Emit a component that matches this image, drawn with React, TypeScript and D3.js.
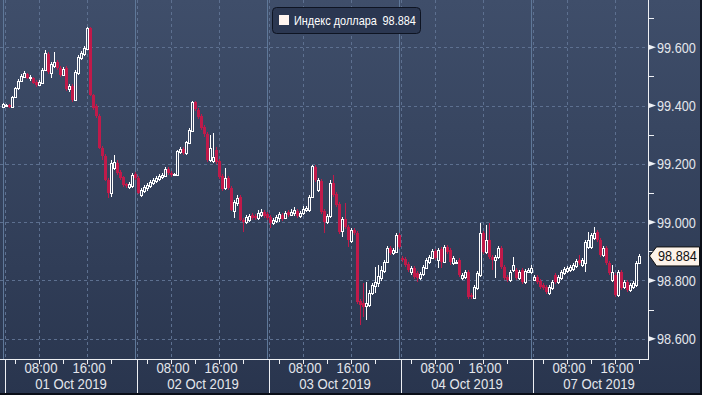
import React from "react";
import * as d3 from "d3";

// [open, high, low, close], 30-min bars
type Bar = [number, number, number, number];

const seriesName = "Индекс доллара";
const lastPrice = 98.884;
const dayLabels = ["01 Oct 2019", "02 Oct 2019", "03 Oct 2019", "04 Oct 2019", "07 Oct 2019"];
const priceTicks = [98.6, 98.8, 99.0, 99.2, 99.4, 99.6];
const minorPriceTicks = [98.7, 98.9, 99.1, 99.3, 99.5, 99.7];
const hourTicks = [4, 8, 12, 16, 20];
const labeledHours = [8, 16];

const priorBars: Bar[] = [[99.395, 99.409, 99.392, 99.405]];

const oct01: Bar[] = [
  [99.398, 99.405, 99.395, 99.402], [99.402, 99.405, 99.392, 99.395], [99.395, 99.433, 99.392, 99.429],
  [99.429, 99.464, 99.426, 99.461], [99.461, 99.491, 99.453, 99.485], [99.485, 99.508, 99.481, 99.501],
  [99.498, 99.519, 99.495, 99.512], [99.508, 99.512, 99.491, 99.495], [99.495, 99.505, 99.485, 99.498],
  [99.495, 99.498, 99.474, 99.477], [99.481, 99.488, 99.464, 99.470], [99.470, 99.488, 99.467, 99.481],
  [99.477, 99.529, 99.474, 99.522], [99.522, 99.590, 99.519, 99.580], [99.577, 99.583, 99.508, 99.515],
  [99.512, 99.549, 99.495, 99.542], [99.535, 99.583, 99.529, 99.549], [99.549, 99.556, 99.522, 99.529],
  [99.529, 99.535, 99.498, 99.505], [99.505, 99.532, 99.501, 99.525], [99.529, 99.535, 99.450, 99.457],
  [99.457, 99.474, 99.446, 99.467], [99.467, 99.474, 99.412, 99.419], [99.419, 99.522, 99.416, 99.515],
  [99.512, 99.573, 99.505, 99.566], [99.563, 99.587, 99.556, 99.580], [99.577, 99.604, 99.570, 99.597],
  [99.594, 99.669, 99.590, 99.666], [99.666, 99.669, 99.433, 99.436], [99.436, 99.440, 99.385, 99.392],
  [99.398, 99.405, 99.357, 99.364], [99.364, 99.371, 99.251, 99.254], [99.254, 99.261, 99.213, 99.227],
  [99.227, 99.233, 99.141, 99.145], [99.145, 99.152, 99.083, 99.100], [99.100, 99.213, 99.086, 99.203],
  [99.186, 99.230, 99.179, 99.206], [99.203, 99.213, 99.162, 99.169], [99.172, 99.179, 99.145, 99.152],
  [99.155, 99.158, 99.121, 99.127], [99.131, 99.134, 99.117, 99.124], [99.121, 99.138, 99.114, 99.131],
  [99.124, 99.169, 99.117, 99.162], [99.165, 99.172, 99.145, 99.152],
];

const oct02: Bar[] = [
  [99.152, 99.158, 99.096, 99.100], [99.093, 99.117, 99.086, 99.110], [99.107, 99.127, 99.100, 99.121],
  [99.117, 99.134, 99.107, 99.127], [99.124, 99.145, 99.117, 99.138], [99.134, 99.152, 99.127, 99.145],
  [99.141, 99.158, 99.134, 99.152], [99.148, 99.165, 99.141, 99.158], [99.155, 99.169, 99.148, 99.162],
  [99.158, 99.189, 99.155, 99.182], [99.182, 99.189, 99.162, 99.169], [99.169, 99.176, 99.155, 99.162],
  [99.162, 99.169, 99.158, 99.165], [99.162, 99.247, 99.158, 99.244], [99.241, 99.258, 99.233, 99.251],
  [99.251, 99.258, 99.230, 99.237], [99.237, 99.278, 99.230, 99.275], [99.271, 99.323, 99.268, 99.316],
  [99.313, 99.416, 99.309, 99.412], [99.412, 99.416, 99.381, 99.388], [99.385, 99.392, 99.354, 99.361],
  [99.364, 99.371, 99.316, 99.323], [99.326, 99.333, 99.292, 99.302], [99.302, 99.309, 99.206, 99.213],
  [99.213, 99.299, 99.206, 99.254], [99.210, 99.306, 99.203, 99.223], [99.247, 99.258, 99.199, 99.206],
  [99.210, 99.217, 99.148, 99.155], [99.158, 99.165, 99.107, 99.114], [99.117, 99.186, 99.110, 99.152],
  [99.152, 99.158, 99.110, 99.117], [99.117, 99.124, 99.038, 99.042], [99.038, 99.076, 99.014, 99.069],
  [99.066, 99.093, 99.055, 99.083], [99.086, 99.093, 99.004, 99.007], [99.007, 99.014, 98.966, 99.000],
  [99.000, 99.024, 98.994, 99.018], [99.007, 99.028, 99.000, 99.021], [99.024, 99.031, 99.007, 99.014],
  [99.021, 99.028, 99.007, 99.014], [99.014, 99.042, 99.007, 99.031], [99.024, 99.045, 99.018, 99.035],
  [99.035, 99.042, 99.014, 99.021], [99.028, 99.035, 99.007, 99.014],
];

const oct03: Bar[] = [
  [99.018, 99.024, 98.980, 98.997], [98.997, 99.014, 98.990, 99.007], [99.004, 99.024, 98.997, 99.018],
  [99.014, 99.035, 99.000, 99.028], [99.024, 99.031, 99.004, 99.011], [99.014, 99.038, 99.011, 99.031],
  [99.035, 99.042, 99.018, 99.024], [99.024, 99.045, 99.021, 99.035], [99.031, 99.052, 99.021, 99.042],
  [99.038, 99.045, 99.014, 99.021], [99.021, 99.038, 99.014, 99.031], [99.031, 99.055, 99.024, 99.045],
  [99.042, 99.055, 99.035, 99.049], [99.042, 99.093, 99.035, 99.086], [99.086, 99.196, 99.083, 99.193],
  [99.189, 99.196, 99.138, 99.145], [99.110, 99.152, 99.103, 99.145], [99.141, 99.148, 99.028, 99.035],
  [99.038, 99.045, 98.963, 99.000], [99.000, 99.028, 98.994, 99.021], [99.021, 99.145, 99.014, 99.134],
  [99.134, 99.162, 99.086, 99.093], [99.096, 99.103, 99.052, 99.059], [99.062, 99.069, 98.959, 98.966],
  [98.970, 99.018, 98.949, 99.011], [99.011, 99.066, 98.976, 98.983], [98.983, 98.990, 98.915, 98.939],
  [98.935, 98.980, 98.928, 98.973], [98.973, 98.980, 98.956, 98.963], [98.963, 98.970, 98.720, 98.726],
  [98.730, 98.737, 98.647, 98.716], [98.723, 98.791, 98.675, 98.709], [98.713, 98.795, 98.664, 98.723],
  [98.716, 98.767, 98.709, 98.757], [98.757, 98.791, 98.750, 98.784], [98.781, 98.846, 98.757, 98.795],
  [98.791, 98.853, 98.778, 98.815], [98.808, 98.849, 98.798, 98.836], [98.833, 98.870, 98.826, 98.863],
  [98.863, 98.918, 98.860, 98.911], [98.911, 98.918, 98.887, 98.894], [98.894, 98.911, 98.887, 98.904],
  [98.897, 98.963, 98.894, 98.956], [98.956, 98.963, 98.908, 98.915],
];

const oct04: Bar[] = [
  [98.877, 98.884, 98.863, 98.870], [98.873, 98.880, 98.846, 98.853], [98.856, 98.863, 98.829, 98.836],
  [98.829, 98.849, 98.819, 98.843], [98.843, 98.849, 98.805, 98.812], [98.826, 98.833, 98.795, 98.808],
  [98.808, 98.829, 98.802, 98.822], [98.822, 98.853, 98.815, 98.846], [98.843, 98.877, 98.839, 98.870],
  [98.863, 98.887, 98.856, 98.880], [98.877, 98.908, 98.873, 98.901], [98.901, 98.908, 98.870, 98.877],
  [98.870, 98.911, 98.843, 98.904], [98.908, 98.915, 98.843, 98.863], [98.863, 98.922, 98.860, 98.915],
  [98.915, 98.922, 98.891, 98.897], [98.904, 98.911, 98.853, 98.863], [98.860, 98.884, 98.853, 98.877],
  [98.860, 98.870, 98.856, 98.863], [98.870, 98.877, 98.812, 98.819], [98.808, 98.826, 98.802, 98.819],
  [98.812, 98.836, 98.805, 98.829], [98.829, 98.836, 98.737, 98.743], [98.750, 98.757, 98.737, 98.743],
  [98.740, 98.784, 98.737, 98.778], [98.774, 98.833, 98.767, 98.826], [98.819, 98.997, 98.812, 98.963],
  [98.963, 98.970, 98.891, 98.897], [98.897, 98.990, 98.891, 98.939], [98.939, 98.997, 98.873, 98.880],
  [98.880, 98.887, 98.836, 98.870], [98.870, 98.887, 98.808, 98.880], [98.880, 98.918, 98.873, 98.911],
  [98.911, 98.918, 98.839, 98.846], [98.846, 98.853, 98.802, 98.808], [98.812, 98.819, 98.795, 98.802],
  [98.802, 98.836, 98.795, 98.829], [98.836, 98.880, 98.829, 98.853], [98.836, 98.843, 98.802, 98.808],
  [98.808, 98.836, 98.802, 98.829], [98.836, 98.843, 98.788, 98.795], [98.795, 98.839, 98.788, 98.833],
  [98.829, 98.843, 98.826, 98.836], [98.829, 98.853, 98.822, 98.843],
];

const oct07: Bar[] = [
  [98.802, 98.819, 98.798, 98.812], [98.812, 98.819, 98.788, 98.795], [98.798, 98.805, 98.771, 98.778],
  [98.784, 98.791, 98.767, 98.774], [98.778, 98.784, 98.754, 98.760], [98.757, 98.784, 98.750, 98.778],
  [98.774, 98.802, 98.767, 98.795], [98.819, 98.826, 98.788, 98.795], [98.795, 98.819, 98.788, 98.812],
  [98.808, 98.836, 98.802, 98.829], [98.826, 98.846, 98.819, 98.839], [98.833, 98.849, 98.826, 98.843],
  [98.836, 98.853, 98.829, 98.846], [98.839, 98.860, 98.833, 98.853], [98.849, 98.873, 98.843, 98.867],
  [98.870, 98.887, 98.853, 98.860], [98.853, 98.877, 98.846, 98.870], [98.860, 98.939, 98.829, 98.932],
  [98.915, 98.966, 98.908, 98.939], [98.915, 98.963, 98.908, 98.956], [98.946, 98.983, 98.939, 98.963],
  [98.966, 98.973, 98.932, 98.939], [98.939, 98.946, 98.880, 98.887], [98.887, 98.918, 98.880, 98.911],
  [98.911, 98.918, 98.853, 98.860], [98.860, 98.867, 98.819, 98.826], [98.802, 98.853, 98.795, 98.829],
  [98.819, 98.826, 98.743, 98.750], [98.750, 98.836, 98.743, 98.829], [98.829, 98.836, 98.767, 98.774],
  [98.778, 98.802, 98.771, 98.795], [98.795, 98.802, 98.760, 98.767], [98.767, 98.791, 98.760, 98.784],
  [98.778, 98.798, 98.771, 98.791], [98.784, 98.867, 98.778, 98.860], [98.860, 98.891, 98.856, 98.884],
];

const days = [oct01, oct02, oct03, oct04, oct07];

// each trading day is drawn as a 22h block starting 02:20
const SESSION_HOURS = 22;
const SESSION_START = 2 + 1 / 3;
const BAR_HOURS = 0.5;

const W = 702;
const H = 395;
const plotRight = 648;
const axisY = 359;

const FONT = "'Liberation Sans', Arial, sans-serif";
const RED = "#c01a4a";
const GRID = "#5d7090";
const INK = "#e4e6ec";

const x = d3.scaleLinear().domain([0, SESSION_HOURS * 5]).range([5, 5 + 6 * SESSION_HOURS * 5]);
const y = d3.scaleLinear().domain([98.6, 99.6]).range([338.7, 47.3]);
const fmt = d3.format(".3f");

const candles = [
  ...priorBars.map((b, i) => ({ t: -BAR_HOURS / 2 - i * BAR_HOURS, b })),
  ...days.flatMap((bars, d) =>
    bars.map((b, i) => ({ t: d * SESSION_HOURS + BAR_HOURS / 2 + i * BAR_HOURS, b }))
  ),
];

const hourT = (d: number, h: number) => d * SESSION_HOURS + (h - SESSION_START);

// narrow text: Bloomberg-like condensed look
function NText({ x, y, size, sx, fill, anchor = "start", children }: any) {
  return (
    <text
      transform={`translate(${x},${y}) scale(${sx},1)`}
      fontSize={size}
      fill={fill}
      textAnchor={anchor}
    >
      {children}
    </text>
  );
}

function Candle({ t, b }: { t: number; b: Bar }) {
  const [o, h, l, c] = b;
  const L = Math.round(x(t) - 1.5);
  const cx = L + 1.5;
  const up = c >= o;
  const top = Math.round(y(Math.max(o, c)));
  const bot = Math.round(y(Math.min(o, c)));
  const color = up ? "#ffffff" : RED;
  return (
    <g>
      <line x1={cx} x2={cx} y1={Math.round(y(h))} y2={Math.round(y(l))} stroke={color} strokeWidth={1} />
      {up ? (
        <rect x={L + 0.5} y={top + 0.5} width={2} height={Math.max(bot - top, 0)} fill="url(#bg)" stroke="#ffffff" strokeWidth={1} />
      ) : (
        <rect x={L} y={top} width={3} height={Math.max(bot - top, 1)} fill={RED} />
      )}
    </g>
  );
}

export default function App() {
  const lastY = y(lastPrice);
  return (
    <div>
      <style>{"body{margin:0;background:#222c40}svg{display:block}"}</style>
      <svg width={W} height={H} style={{ fontFamily: FONT }}>
        <defs>
          <linearGradient id="bg" gradientUnits="userSpaceOnUse" x1={0} y1={0} x2={0} y2={H}>
            <stop offset="0%" stopColor="#3f4e6a" />
            <stop offset="100%" stopColor="#29354e" />
          </linearGradient>
          <clipPath id="plot">
            <rect x={0} y={0} width={plotRight} height={axisY} />
          </clipPath>
        </defs>
        <rect x={0} y={0} width={W} height={H} fill="url(#bg)" />

        {/* horizontal grid */}
        {priceTicks.map((v) => (
          <line key={v} x1={0} x2={plotRight} y1={Math.round(y(v)) + 0.5} y2={Math.round(y(v)) + 0.5}
            stroke={GRID} strokeDasharray="3,3" />
        ))}

        {/* vertical grid and day separators */}
        {dayLabels.map((_, d) => {
          const x0 = Math.round(x(hourT(d, SESSION_START)));
          return (
            <g key={d}>
              <line x1={x0 - 1.5} x2={x0 - 1.5} y1={0} y2={axisY} stroke="#5f7899" strokeWidth={1} />
              <line x1={x0 + 0.5} x2={x0 + 0.5} y1={0} y2={axisY} stroke={GRID} strokeDasharray="3,3" />
              {labeledHours.map((h) => {
                const xx = Math.round(x(hourT(d, h))) + 0.5;
                return <line key={h} x1={xx} x2={xx} y1={0} y2={axisY} stroke={GRID} strokeDasharray="3,3" />;
              })}
            </g>
          );
        })}

        <g clipPath="url(#plot)">
          {candles.map((c, i) => (
            <Candle key={i} t={c.t} b={c.b} />
          ))}
        </g>

        {/* axes */}
        <line x1={plotRight + 0.5} x2={plotRight + 0.5} y1={0} y2={axisY + 1} stroke="#eef0f4" />
        <line x1={0} x2={plotRight + 1} y1={axisY + 0.5} y2={axisY + 0.5} stroke="#eef0f4" />

        {minorPriceTicks.map((v) => {
          const yy = Math.round(y(v)) + 0.5;
          return <line key={v} x1={plotRight} x2={plotRight + 6} y1={yy} y2={yy} stroke="#eef0f4" />;
        })}
        {priceTicks.map((v) => {
          const yy = y(v);
          return (
            <g key={v}>
              <path d={`M${plotRight + 1},${yy - 2.5}L${plotRight + 8},${yy}L${plotRight + 1},${yy + 2.5}Z`} fill="#eef0f4" />
              <NText x={plotRight + 9} y={yy + 5.5} size={15.5} sx={0.82} fill={INK}>{fmt(v)}</NText>
            </g>
          );
        })}

        {/* last price tag */}
        <path
          d={`M${plotRight + 1.5},${lastY}L${plotRight + 8.5},${lastY - 9}L${W - 2.5},${lastY - 9}L${W - 2.5},${lastY + 10}L${plotRight + 8.5},${lastY + 10}Z`}
          fill="#fdf3ea" stroke="#111" strokeWidth={1}
        />
        <NText x={plotRight + 10} y={lastY + 5.5} size={15.5} sx={0.82} fill="#111">{fmt(lastPrice)}</NText>

        {/* bottom axis */}
        {dayLabels.map((label, d) => {
          const x0 = Math.round(x(hourT(d, SESSION_START))) + 0.5;
          return (
            <g key={label}>
              <line x1={x0} x2={x0} y1={axisY} y2={H} stroke="#eef0f4" />
              {hourTicks.map((h) => {
                const xx = Math.round(x(hourT(d, h))) + 0.5;
                return xx < plotRight ? (
                  <line key={h} x1={xx} x2={xx} y1={axisY} y2={axisY + 5} stroke="#eef0f4" />
                ) : null;
              })}
              {labeledHours.map((h) => (
                <NText key={h} x={x(hourT(d, h)) + 2} y={373} size={14} sx={0.94} fill={INK} anchor="middle">
                  {`${String(h).padStart(2, "0")}:00`}
                </NText>
              ))}
              <NText x={x(hourT(d, SESSION_START + SESSION_HOURS / 2))} y={389} size={14} sx={0.94} fill={INK} anchor="middle">
                {label}
              </NText>
            </g>
          );
        })}

        {/* legend */}
        <rect x={272.5} y={7.5} width={148} height={26} rx={4} fill="#2b3751" stroke="#0e1422" />
        <rect x={279} y={15} width={10} height={10} fill="#fff4ee" />
        <NText x={294} y={25} size={13} sx={0.84} fill="#ffffff">{seriesName}</NText>
        <NText x={382.5} y={25} size={13} sx={0.84} fill="#ffffff">{fmt(lastPrice)}</NText>

        {/* frame edges */}
        <rect x={0} y={H - 2} width={W} height={2} fill="#0b0f18" />
        <rect x={W - 2} y={0} width={2} height={H} fill="#0b0f18" />
      </svg>
    </div>
  );
}
